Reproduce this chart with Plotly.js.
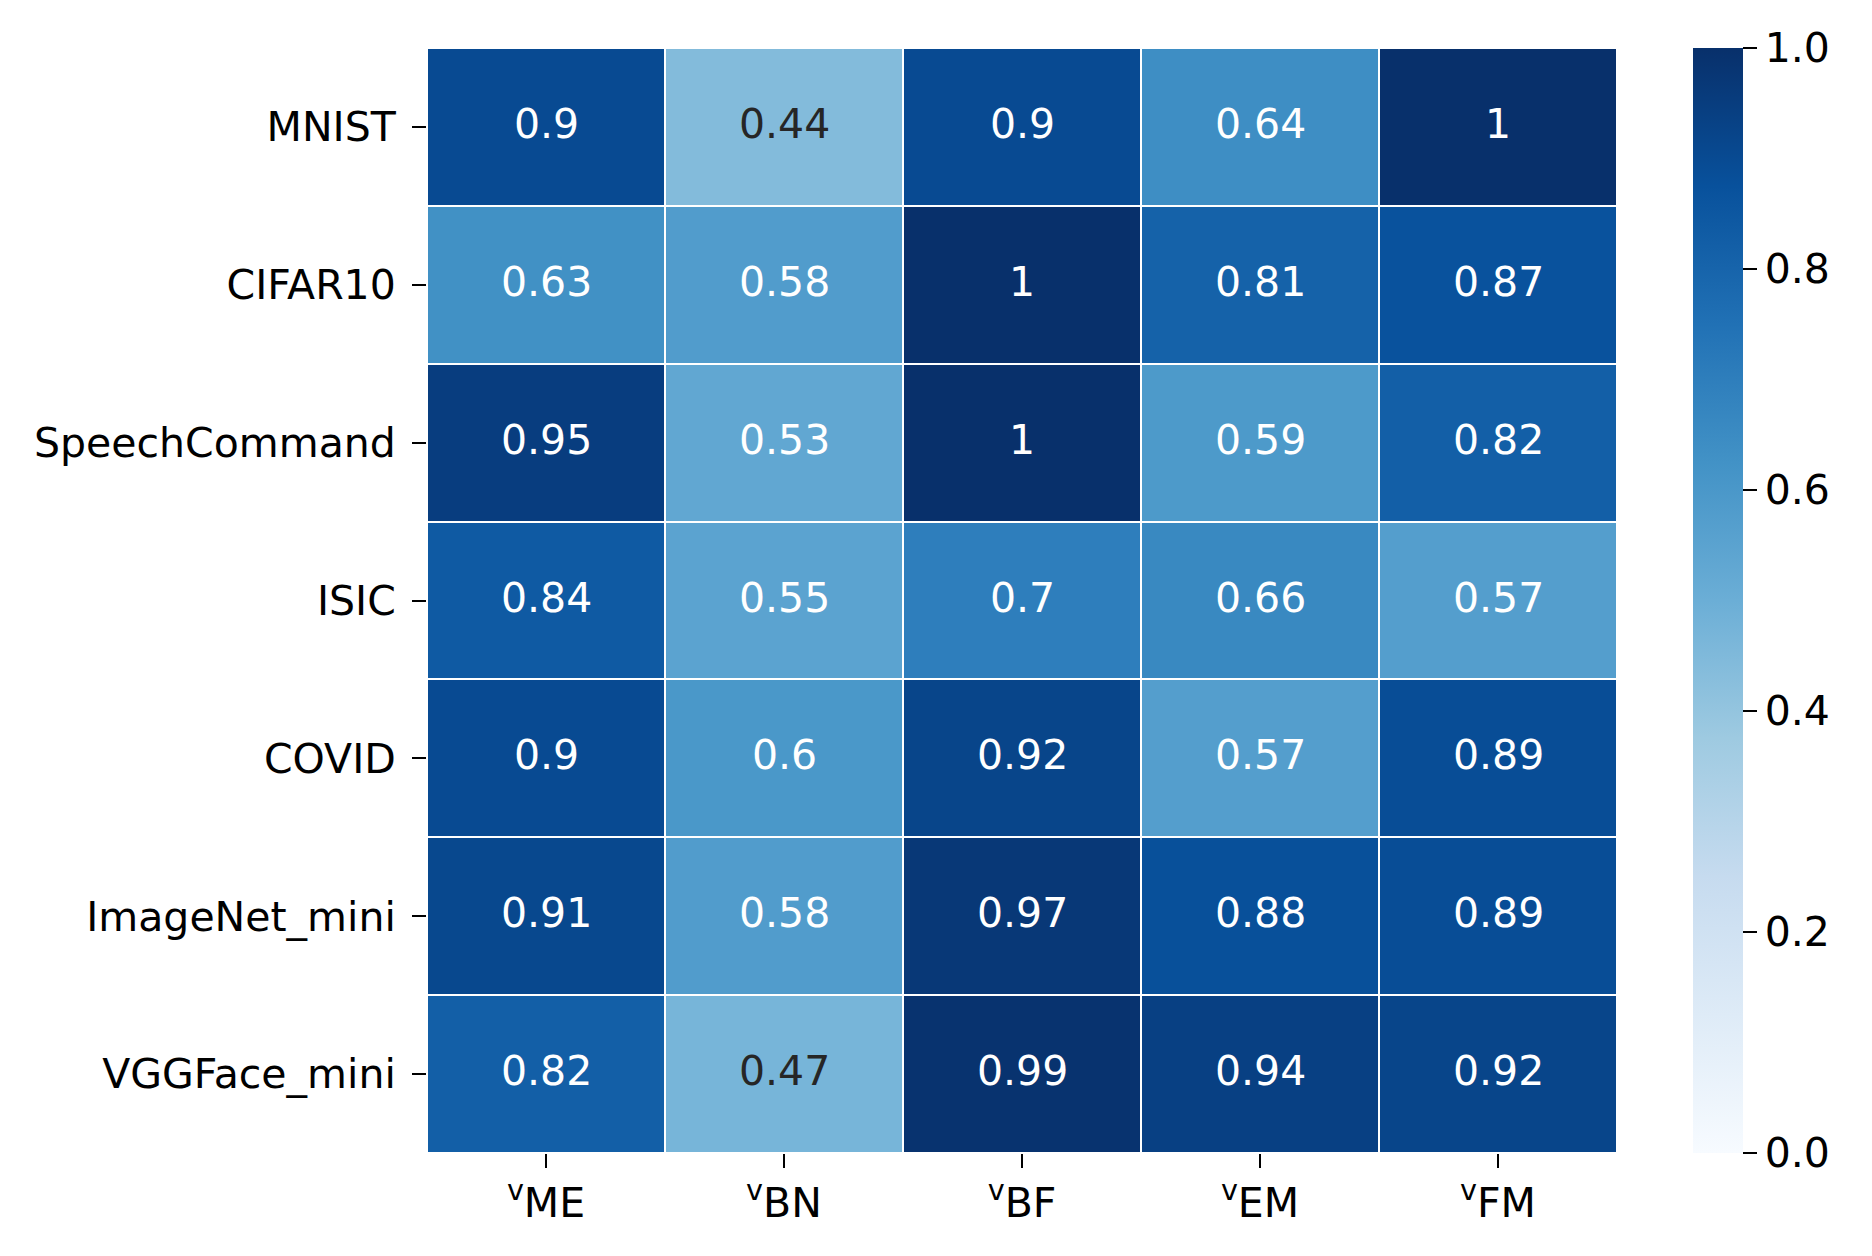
<!DOCTYPE html>
<html>
<head>
<meta charset="utf-8">
<script src="https://cdn.plot.ly/plotly-3.0.1.min.js"></script>
<style>html,body{margin:0;padding:0;background:#fff;}#chart{width:1872px;height:1256px;}</style>
</head>
<body>
<div id="chart"></div>
<script>
const datasets = ["MNIST", "CIFAR10", "SpeechCommand", "ISIC", "COVID", "ImageNet_mini", "VGGFace_mini"];
const metrics = ["<sup>v</sup>ME", "<sup>v</sup>BN", "<sup>v</sup>BF", "<sup>v</sup>EM", "<sup>v</sup>FM"];
const rowMNIST = [0.9, 0.44, 0.9, 0.64, 1];
const rowCIFAR10 = [0.63, 0.58, 1, 0.81, 0.87];
const rowSpeech = [0.95, 0.53, 1, 0.59, 0.82];
const rowISIC = [0.84, 0.55, 0.7, 0.66, 0.57];
const rowCOVID = [0.9, 0.6, 0.92, 0.57, 0.89];
const rowImageNet = [0.91, 0.58, 0.97, 0.88, 0.89];
const rowVGGFace = [0.82, 0.47, 0.99, 0.94, 0.92];
const colorbarTicks = [0, 0.2, 0.4, 0.6, 0.8, 1.0];

const z = [rowMNIST, rowCIFAR10, rowSpeech, rowISIC, rowCOVID, rowImageNet, rowVGGFace];

const blues = [
  [0.0, '#f7fbff'], [0.125, '#deebf7'], [0.25, '#c6dbef'], [0.375, '#9ecae1'],
  [0.5, '#6baed6'], [0.625, '#4292c6'], [0.75, '#2171b5'], [0.875, '#08519c'], [1.0, '#08306b']
];

const font = {family: 'DejaVu Sans, sans-serif', size: 41, color: '#000'};

const annotations = [];
z.forEach((row, i) => {
  row.forEach((v, j) => {
    annotations.push({
      x: metrics[j], y: datasets[i], xref: 'x', yref: 'y',
      text: String(v), showarrow: false, yshift: 3,
      font: {family: font.family, size: 41, color: v < 0.5 ? '#262626' : '#ffffff'}
    });
  });
});

const trace = {
  type: 'heatmap',
  x: metrics, y: datasets, z: z,
  zmin: 0, zmax: 1,
  colorscale: blues,
  xgap: 2, ygap: 2,
  hoverinfo: 'skip',
  colorbar: {
    x: 1.0639, xanchor: 'left', xref: 'paper',
    y: 0.5, yanchor: 'middle', len: 1, lenmode: 'fraction',
    thickness: 50, thicknessmode: 'pixels',
    outlinewidth: 0,
    ticks: 'outside', ticklen: 14, tickwidth: 2, tickcolor: '#000',
    tickvals: colorbarTicks, tickformat: '.1f',
    tickfont: font, ypad: 0, xpad: 0
  }
};

const layout = {
  width: 1872, height: 1256,
  margin: {l: 427, r: 255, t: 48, b: 103, pad: 0},
  paper_bgcolor: '#fff', plot_bgcolor: '#fff',
  font: font,
  xaxis: {
    type: 'category', showgrid: false, zeroline: false, showline: false,
    ticks: 'outside', ticklen: 14, tickwidth: 2, tickcolor: '#000',
    tickfont: font, ticklabelstandoff: 0
  },
  yaxis: {
    type: 'category', autorange: 'reversed', showgrid: false, zeroline: false, showline: false,
    ticks: 'outside', ticklen: 14, tickwidth: 2, tickcolor: '#000',
    tickfont: font, ticklabelstandoff: 8
  },
  annotations: annotations
};

Plotly.newPlot('chart', [trace], layout, {staticPlot: true, displayModeBar: false});
</script>
</body>
</html>
